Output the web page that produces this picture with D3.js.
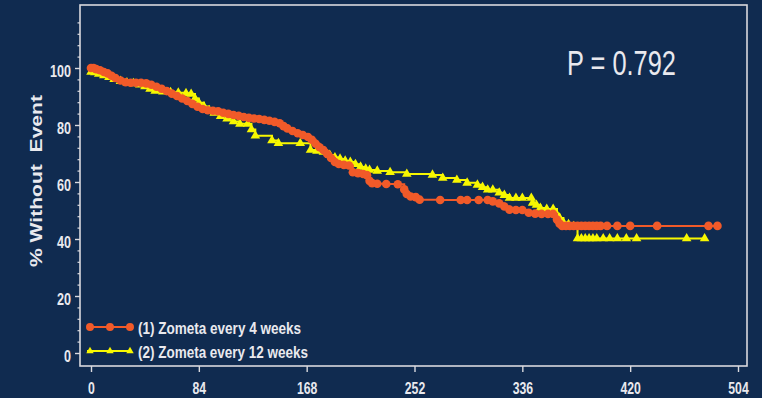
<!DOCTYPE html>
<html>
<head>
<meta charset="utf-8">
<script src="https://cdn.jsdelivr.net/npm/d3@7"></script>
<style>
  html, body { margin: 0; padding: 0; background: #102b50; }
  svg { display: block; }
  text { fill: #e9e9ee; font-family: "Liberation Sans Narrow", "Arial Narrow", "Liberation Sans", Arial, sans-serif; }
</style>
</head>
<body>
<svg id="chart" width="762" height="398"></svg>
<script>
// Axis ticks
const ticksX = [0, 84, 168, 252, 336, 420, 504];
const ticksY = [0, 20, 40, 60, 80, 100];

// Series labels
const seriesNames = ["(1) Zometa every 4 weeks", "(2) Zometa every 12 weeks"];
const pLabel = "P = 0.792";
const yTitle = "% Without  Event";

// (1) Zometa every 4 weeks: time (days) and % without event
const time1 = [0, 2, 4, 7, 10, 13, 16, 19, 23, 27, 31, 35, 39, 43, 47, 51, 55, 59, 63, 67,
  71, 75, 79, 83, 87, 91, 95, 99, 103, 107, 111, 115, 119, 123, 127, 131, 135, 139, 143, 147,
  150, 153, 157, 161, 165, 169, 172, 175, 178, 181, 184, 187, 190, 193, 197, 201, 204, 208, 212, 215,
  217, 219, 223, 230, 239, 244, 246, 249, 253, 256, 272, 288, 293, 302, 309, 313, 318, 322, 326, 331,
  336, 341, 346, 351, 356, 360, 363, 365, 367, 370, 373, 376, 379, 382, 385, 388, 391, 394, 397, 402,
  410, 420, 441, 481, 488];
const surv1 = [100, 100, 99.6, 99.2, 98.6, 98.1, 97.3, 96.5, 95.6, 95, 94.8, 94.8, 94.8, 94.6, 94.1, 93.4, 92.7, 91.9, 91, 90.2,
  89.3, 88.4, 87.4, 86.4, 85.6, 85.2, 85, 84.8, 84.3, 83.9, 83.5, 83.2, 82.8, 82.5, 82.3, 82.1, 81.8, 81.5, 81.1, 80.6,
  79.6, 78.8, 77.9, 77.1, 76.5, 75.8, 74.8, 73.4, 72.2, 71.2, 69.8, 68.4, 67, 66.3, 66, 65.8, 63.4, 63.1, 62.8, 62.4,
  60.4, 59.6, 59.4, 59.3, 59.2, 57.4, 55.8, 54.9, 54.7, 53.8, 53.7, 53.7, 53.7, 53.7, 53.7, 53.2, 52.5, 51.4, 50.3, 50.2,
  50.2, 49.2, 48.9, 48.8, 48.8, 48.8, 46.8, 45.4, 44.6, 44.6, 44.6, 44.6, 44.6, 44.6, 44.6, 44.6, 44.6, 44.6, 44.6, 44.6,
  44.6, 44.6, 44.6, 44.6, 44.6];

// (2) Zometa every 12 weeks: time (days) and % without event
const time2 = [0, 3, 6, 10, 14, 18, 23, 28, 33, 38, 42, 46, 50, 56, 62, 68, 74, 78, 81, 84,
  88, 92, 96, 101, 106, 111, 116, 122, 125, 128, 141, 146, 163, 171,
  176, 181, 186, 190, 194, 198, 202, 206, 210, 214, 217, 223, 233, 246, 266, 274,
  285, 293, 301, 305, 309, 313, 318, 322, 326, 331, 336, 343, 344, 347, 350, 355, 360, 363, 365, 368,
  372, 376, 379, 382, 385, 388, 391, 394, 399, 404, 410, 417, 425, 464, 478];
const surv2 = [98.6, 98.4, 97.9, 97.4, 96.8, 96.1, 95.4, 94.9, 94.6, 94.1, 93.5, 92.6, 91.9, 91.7, 91.5, 91.3, 91.1, 90.9, 89.3, 87.8,
  86.5, 85.2, 84.2, 83.1, 82.2, 81.2, 80.4, 80.4, 78.4, 76.2, 74.6, 73.6, 73.6, 71.2,
  70.9, 70.5, 69.5, 68.6, 68.1, 67.4, 67, 66.2, 65.3, 64.6, 64.2, 63.9, 63.4, 62.8, 62.5, 61.4,
  60.7, 59.7, 59, 58.2, 57.3, 57.3, 56.2, 55.4, 54.4, 54.4, 54.4, 54.4, 52.6, 51.9, 50.9, 50.5, 50.5, 48.5, 47.4, 45.8,
  45.2, 44.5, 40.2, 40.2, 40.2, 40.2, 40.2, 40.2, 40.2, 40.2, 40.2, 40.2, 40.2, 40.2, 40.2];

const colorOrange = "#f15a29";
const colorYellow = "#f7f700";
const frameColor = "#d9d9de";

const svg = d3.select("#chart");
const frame = { left: 80, top: 5, right: 747, bottom: 366 };

const x = d3.scaleLinear().domain([0, 504]).range([91, 738]);
const y = d3.scaleLinear().domain([0, 100]).range([353, 68]);

// Plot frame
svg.append("rect")
  .attr("x", frame.left).attr("y", frame.top)
  .attr("width", frame.right - frame.left).attr("height", frame.bottom - frame.top)
  .attr("fill", "none").attr("stroke", frameColor).attr("stroke-width", 1.6);

// Squeeze text horizontally to a target width per character
function fit(sel, perChar) {
  sel.each(function () {
    const t = d3.select(this);
    const n = t.text().length;
    if (n > 0) t.attr("textLength", n * perChar).attr("lengthAdjust", "spacingAndGlyphs");
  });
}

// X axis
const gx = svg.append("g").attr("transform", `translate(0,${frame.bottom})`)
  .call(d3.axisBottom(x).tickValues(ticksX).tickSize(6).tickPadding(11).tickFormat(d3.format("d")));
gx.select(".domain").remove();
gx.selectAll(".tick line").attr("stroke", frameColor).attr("stroke-width", 1.4);
gx.selectAll(".tick text").attr("font-size", 16).attr("font-weight", "bold").attr("fill", "#e9e9ee").call(fit, 6.8);

// Y axis: minor ticks every 4 units, majors every 20
const minorY = d3.range(0, 121, 4).filter(v => v % 20 !== 0);
const gyMinor = svg.append("g").attr("transform", `translate(${frame.left},0)`)
  .call(d3.axisLeft(y).tickValues(minorY).tickSize(2.5).tickFormat(""));
gyMinor.select(".domain").remove();
gyMinor.selectAll(".tick line").attr("stroke", frameColor).attr("stroke-width", 1.2);

const gy = svg.append("g").attr("transform", `translate(${frame.left},0)`)
  .call(d3.axisLeft(y).tickValues(ticksY).tickSize(5).tickPadding(4).tickFormat(d3.format("d")));
gy.select(".domain").remove();
gy.selectAll(".tick line").attr("stroke", frameColor).attr("stroke-width", 1.4);
gy.selectAll(".tick text").attr("font-size", 16).attr("font-weight", "bold").attr("fill", "#e9e9ee")
  .attr("dy", "0.55em").call(fit, 7);

// Y axis title (double space kept)
svg.append("text")
  .attr("transform", "translate(42,181) rotate(-90)")
  .attr("text-anchor", "middle")
  .attr("xml:space", "preserve")
  .style("white-space", "pre")
  .attr("font-family", "'Liberation Sans', Arial, sans-serif")
  .attr("font-size", 17).attr("font-weight", "bold")
  .attr("textLength", 172).attr("lengthAdjust", "spacingAndGlyphs")
  .text(yTitle);

// P value
svg.append("text")
  .attr("x", 567).attr("y", 75)
  .attr("font-size", 35)
  .attr("textLength", 109).attr("lengthAdjust", "spacingAndGlyphs")
  .text(pLabel);

// Survival curves (12-week arm underneath, 4-week arm on top)
const series = [
  { name: seriesNames[1], t: time2, s: surv2, color: colorYellow, symbol: d3.symbolTriangle, size: 40 },
  { name: seriesNames[0], t: time1, s: surv1, color: colorOrange, symbol: d3.symbolCircle, size: 58 }
];

const line = d3.line().curve(d3.curveStepAfter).x(d => x(d[0])).y(d => y(d[1]));

series.forEach(sr => {
  const pts = sr.t.map((t, i) => [t, sr.s[i]]);
  svg.append("path").datum(pts)
    .attr("d", line).attr("fill", "none")
    .attr("stroke", sr.color).attr("stroke-width", 2);
  svg.append("g").selectAll("path").data(pts).join("path")
    .attr("transform", d => `translate(${x(d[0])},${y(d[1])})`)
    .attr("d", d3.symbol().type(sr.symbol).size(sr.size))
    .attr("fill", sr.color);
});

// Legend
const legend = [
  { name: seriesNames[0], color: colorOrange, symbol: d3.symbolCircle, size: 50, yPos: 327, len: 163 },
  { name: seriesNames[1], color: colorYellow, symbol: d3.symbolTriangle, size: 24, yPos: 351, len: 170 }
];
legend.forEach(l => {
  const g = svg.append("g").attr("transform", `translate(0,${l.yPos})`);
  g.append("line").attr("x1", 87).attr("x2", 130).attr("stroke", l.color).attr("stroke-width", 2);
  g.selectAll("path").data([90, 110, 130]).join("path")
    .attr("transform", d => `translate(${d},0)`)
    .attr("d", d3.symbol().type(l.symbol).size(l.size))
    .attr("fill", l.color);
  g.append("text").attr("x", 138).attr("y", 7)
    .attr("font-size", 16).attr("font-weight", "bold")
    .attr("textLength", l.len).attr("lengthAdjust", "spacingAndGlyphs")
    .text(l.name);
});
</script>
</body>
</html>
